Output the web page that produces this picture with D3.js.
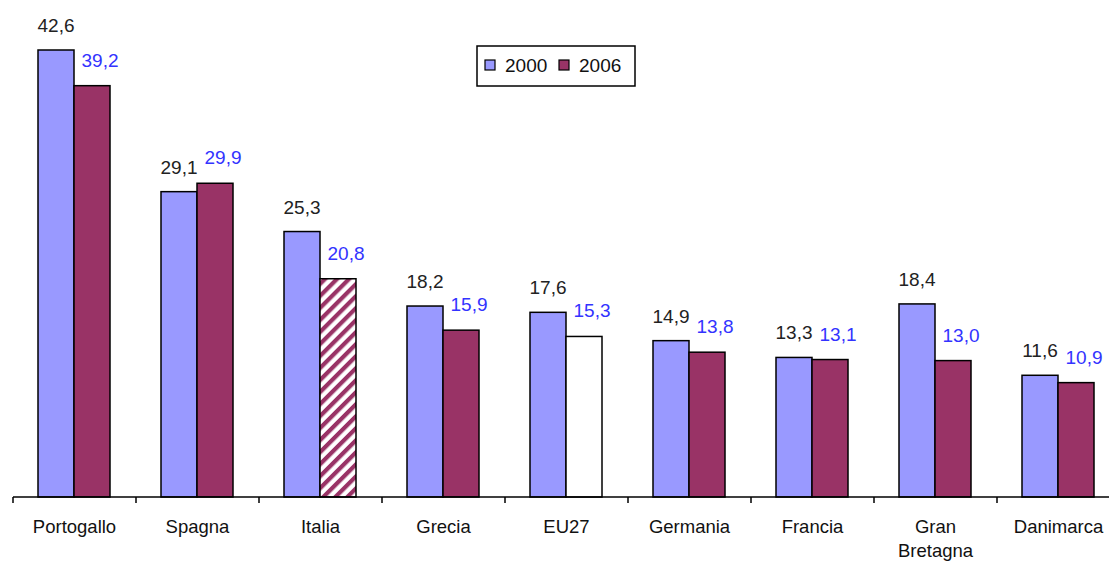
<!DOCTYPE html>
<html><head><meta charset="utf-8">
<script src="https://cdn.jsdelivr.net/npm/d3@7/dist/d3.min.js"></script>
<style>body{margin:0;background:#fff}svg{display:block}</style>
</head><body>
<svg id="c" width="1109" height="563"></svg>
<script>
const categories = ["Portogallo","Spagna","Italia","Grecia","EU27","Germania","Francia","Gran Bretagna","Danimarca"];
const values2000 = [42.6,29.1,25.3,18.2,17.6,14.9,13.3,18.4,11.6];
const values2006 = [39.2,29.9,20.8,15.9,15.3,13.8,13.1,13.0,10.9];
const labels2000 = ["42,6","29,1","25,3","18,2","17,6","14,9","13,3","18,4","11,6"];
const labels2006 = ["39,2","29,9","20,8","15,9","15,3","13,8","13,1","13,0","10,9"];
const seriesNames = ["2000","2006"];
const special2006 = {"Italia":"hatch","EU27":"white"};

const svg = d3.select("#c");
const font = "Liberation Sans, Arial, sans-serif";
const x0 = 13, bandW = 123;
const x = d3.scaleBand().domain(categories).range([x0, x0 + bandW*categories.length]).padding(0);
const y = d3.scaleLinear().domain([0, 42.6]).range([497, 50]);
const barW = 36;
const c2000 = "#9999ff", c2006 = "#993366";

const defs = svg.append("defs");
const pat = defs.append("pattern").attr("id","hatch").attr("patternUnits","userSpaceOnUse")
  .attr("width",8.5).attr("height",8.5).attr("patternTransform","rotate(45)");
pat.append("rect").attr("width",8.5).attr("height",8.5).attr("fill","#fff");
pat.append("rect").attr("x",0).attr("width",4.2).attr("height",8.5).attr("fill",c2006);

const g = svg.append("g");
categories.forEach((c,i)=>{
  const cx = x(c) + x.bandwidth()/2 - 0.5;
  g.append("rect").attr("x",cx-barW).attr("y",y(values2000[i])).attr("width",barW)
    .attr("height",y(0)-y(values2000[i])).attr("fill",c2000).attr("stroke","#000").attr("stroke-width",1.5);
  const sp = special2006[c];
  const fill = sp==="hatch" ? "url(#hatch)" : sp==="white" ? "#fff" : c2006;
  g.append("rect").attr("x",cx).attr("y",y(values2006[i])).attr("width",barW)
    .attr("height",y(0)-y(values2006[i])).attr("fill",fill).attr("stroke","#000").attr("stroke-width",1.5);
  g.append("text").attr("x",cx-barW/2).attr("y",y(values2000[i])-18).attr("text-anchor","middle")
    .attr("font-family",font).attr("font-size",19).attr("fill","#222").text(labels2000[i]);
  g.append("text").attr("x",cx+barW/2+8).attr("y",y(values2006[i])-19).attr("text-anchor","middle")
    .attr("font-family",font).attr("font-size",19).attr("fill","#3333ff").text(labels2006[i]);
});

// axis
const ax = svg.append("g");
ax.append("line").attr("x1",x0).attr("x2",1109).attr("y1",y(0)).attr("y2",y(0)).attr("stroke","#000").attr("stroke-width",1.5);
for(let i=0;i<=categories.length;i++){
  const tx = x0 + i*bandW;
  ax.append("line").attr("x1",tx).attr("x2",tx).attr("y1",y(0)).attr("y2",y(0)+6).attr("stroke","#000").attr("stroke-width",1.5);
}
categories.forEach(c=>{
  const cx = x(c) + x.bandwidth()/2;
  const parts = c==="Gran Bretagna" ? ["Gran","Bretagna"] : [c];
  const t = ax.append("text").attr("text-anchor","middle").attr("font-family",font).attr("font-size",18.5).attr("fill","#111");
  parts.forEach((p,j)=>t.append("tspan").attr("x",cx).attr("y",533+j*24).text(p));
});

// legend
const lg = svg.append("g");
lg.append("rect").attr("x",477).attr("y",46).attr("width",158).attr("height",40).attr("fill","#fff").attr("stroke","#000").attr("stroke-width",1.5);
[[485,505,c2000],[559,579,c2006]].forEach(([sx,tx,col],k)=>{
  lg.append("rect").attr("x",sx).attr("y",60).attr("width",10).attr("height",10).attr("fill",col).attr("stroke","#000").attr("stroke-width",1.2);
  lg.append("text").attr("x",tx).attr("y",72).attr("font-family",font).attr("font-size",19).attr("fill","#111").text(seriesNames[k]);
});
</script>
</body></html>
